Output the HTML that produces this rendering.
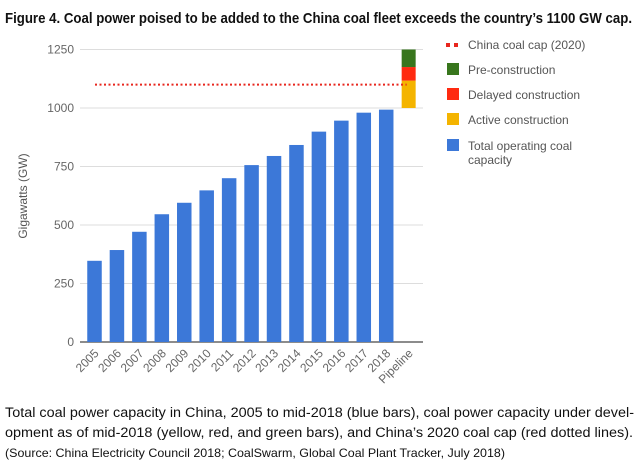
<!DOCTYPE html>
<html><head><meta charset="utf-8"><style>
html,body{margin:0;padding:0;background:#fff;}
svg{display:block;font-family:"Liberation Sans",sans-serif;}
</style></head><body>
<svg id="chart" width="640" height="463" viewBox="0 0 640 463">
<text x="5" y="23" font-size="15" font-weight="bold" fill="#111" textLength="627" lengthAdjust="spacingAndGlyphs">Figure 4. Coal power poised to be added to the China coal fleet exceeds the country’s 1100 GW cap.</text>
<g id="grid"></g>
<g id="bars"></g>
<g id="xlabels"></g>
<text transform="translate(27,196) rotate(-90)" text-anchor="middle" font-size="12" fill="#555">Gigawatts (GW)</text>
<g id="legend" font-size="12" fill="#555">
<g><rect x="446" y="43" width="4" height="4" fill="#e8261e"/><rect x="454" y="43" width="4" height="4" fill="#e8261e"/><text x="468" y="49" fill="#555">China coal cap (2020)</text></g>
<g><rect x="447" y="63" width="12" height="12" fill="#38761d"/><text x="468" y="74" fill="#555">Pre-construction</text></g>
<g><rect x="447" y="88" width="12" height="12" fill="#ff2a10"/><text x="468" y="99" fill="#555">Delayed construction</text></g>
<g><rect x="447" y="113" width="12" height="12" fill="#f4b400"/><text x="468" y="124" fill="#555">Active construction</text></g>
<g><rect x="447" y="139" width="12" height="12" fill="#3c78d8"/><text x="468" y="150" fill="#555">Total operating coal</text><text x="468" y="164" fill="#555">capacity</text></g>
</g>
<g font-size="13.5" fill="#111">
<text x="5" y="417" textLength="629" lengthAdjust="spacingAndGlyphs">Total coal power capacity in China, 2005 to mid-2018 (blue bars), coal power capacity under devel-</text>
<text x="5" y="437" textLength="628" lengthAdjust="spacingAndGlyphs">opment as of mid-2018 (yellow, red, and green bars), and China’s 2020 coal cap (red dotted lines).</text>
<text x="5" y="457" font-size="12" textLength="500" lengthAdjust="spacingAndGlyphs">(Source: China Electricity Council 2018; CoalSwarm, Global Coal Plant Tracker, July 2018)</text>
</g>
</svg>
<script>
const categories=["2005","2006","2007","2008","2009","2010","2011","2012","2013","2014","2015","2016","2017","2018","Pipeline"];
const operating=[347,393,471,546,595,648,700,756,795,842,899,946,980,993,0];
const pipelineBase=1000;
const activeConstruction=117;
const delayedConstruction=58;
const preConstruction=75;
const capValue=1100;
const yTicks=[0,250,500,750,1000,1250];

const NS="http://www.w3.org/2000/svg";
const y0=342,y1=49.5,vmax=1250;
const y=v=>y0-(v/vmax)*(y0-y1);
const x=i=>94.5+i*22.44;
const bw=14.5;
function mk(tag,attrs,parent){const e=document.createElementNS(NS,tag);for(const k in attrs)e.setAttribute(k,attrs[k]);parent.appendChild(e);return e;}
const grid=document.getElementById('grid'),bars=document.getElementById('bars'),xl=document.getElementById('xlabels');
yTicks.forEach(t=>{
  const l=mk('line',{x1:80,x2:423,y1:y(t),y2:y(t),stroke:t===0?'#666':'#ddd','stroke-width':t===0?1.5:1},grid);
  
  
  const tx=mk('text',{x:74,y:y(t)+4,'text-anchor':'end','font-size':12,fill:'#666'},grid);
  tx.textContent=t;
  
  
});
categories.forEach((c,i)=>{
  if(operating[i]>0){
    const r=mk('rect',{x:x(i)-bw/2,y:y(operating[i]),width:bw,height:y0-y(operating[i]),fill:'#3c78d8'},bars);
    
    
  }
  const t=mk('text',{transform:`translate(${x(i)+5},${y0+12}) rotate(-45)`,'text-anchor':'end','font-size':12,fill:'#666'},xl);
  t.textContent=c;
  
  
});
const pi=categories.length-1;
let base=pipelineBase;
[[activeConstruction,'#f4b400','bar-active-construction'],[delayedConstruction,'#ff2a10','bar-delayed-construction'],[preConstruction,'#38761d','bar-pre-construction']].forEach(([v,col,nm])=>{
  const r=mk('rect',{x:x(pi)-7,y:y(base+v),width:14,height:y(base)-y(base+v),fill:col},bars);
  
  
  base+=v;
});
const cap=mk('line',{x1:95,x2:x(pi)-2,y1:y(capValue),y2:y(capValue),stroke:'#e8261e','stroke-width':2,'stroke-dasharray':'2,2.5'},bars);


</script>
</body></html>
